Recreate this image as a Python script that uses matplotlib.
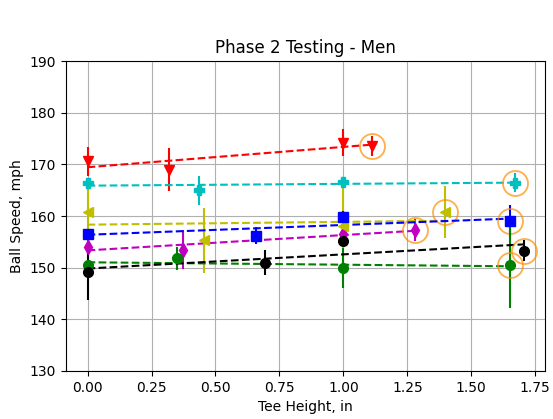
import numpy as np
import matplotlib
matplotlib.use("Agg")
import matplotlib.pyplot as plt

title = "Phase 2 Testing - Men"
xlabel = "Tee Height, in"
ylabel = "Ball Speed, mph"

# series data (tee height, ball speed mean, std)
red_x = [0.0, 0.318, 1.0, 1.111]
red_y = [170.6, 169.0, 174.2, 173.6]
red_e = [2.8, 4.2, 2.6, 2.0]

mag_x = [0.0, 0.374, 1.0, 1.281]
mag_y = [154.0, 153.5, 156.5, 157.3]
mag_e = [1.3, 3.75, 0.8, 2.2]

cyan_x = [0.0, 0.435, 1.0, 1.671]
cyan_y = [166.5, 165.0, 166.65, 166.5]
cyan_e = [0.8, 2.8, 0.7, 1.8]

yel_x = [0.0, 0.457, 1.0, 1.396]
yel_y = [160.8, 155.3, 158.0, 160.8]
yel_e = [4.5, 6.35, 8.0, 5.0]

blue_x = [0.0, 0.66, 1.0, 1.651]
blue_y = [156.6, 156.2, 159.9, 159.1]
blue_e = [0.5, 1.7, 1.0, 3.0]

green_x = [0.0, 0.348, 1.0, 1.651]
green_y = [150.6, 151.8, 149.9, 150.5]
green_e = [0.6, 2.3, 3.9, 8.3]

black_x = [0.0, 0.693, 1.0, 1.707]
black_y = [149.2, 151.0, 155.2, 153.3]
black_e = [5.4, 2.4, 0.8, 2.0]

series = [
    (red_x, red_y, red_e, 'r', 'v'),
    (mag_x, mag_y, mag_e, 'm', 'd'),
    (cyan_x, cyan_y, cyan_e, 'c', 'P'),
    (yel_x, yel_y, yel_e, 'y', '<'),
    (blue_x, blue_y, blue_e, 'b', 's'),
    (green_x, green_y, green_e, 'g', 'o'),
    (black_x, black_y, black_e, 'k', 'o'),
]

fig = plt.figure(figsize=(5.53, 4.19), dpi=100)
ax = fig.add_axes([0.119, 0.1146, 0.8665, 0.7394])

for xs, ys, es, c, m in series:
    xs = np.asarray(xs); ys = np.asarray(ys)
    ax.errorbar(xs, ys, yerr=es, fmt=m, color=c, ms=7, elinewidth=1.5, capsize=0)
    k, b = np.polyfit(xs, ys, 1)
    xf = np.array([xs.min(), xs.max()])
    ax.plot(xf, k * xf + b, '--', color=c, lw=1.5)
    i = int(np.argmax(xs))
    ax.plot(xs[i], ys[i], 'o', ms=18, mfc='none', mec='darkorange', mew=1.3, alpha=0.7)

ax.set_xlim(-0.085, 1.788)
ax.set_ylim(130, 190)
ax.set_xticks(np.arange(0, 1.76, 0.25))
ax.set_yticks(np.arange(130, 191, 10))
ax.grid(True)
ax.set_title(title)
ax.set_xlabel(xlabel)
ax.set_ylabel(ylabel)

fig.savefig("out.png", dpi=100)
